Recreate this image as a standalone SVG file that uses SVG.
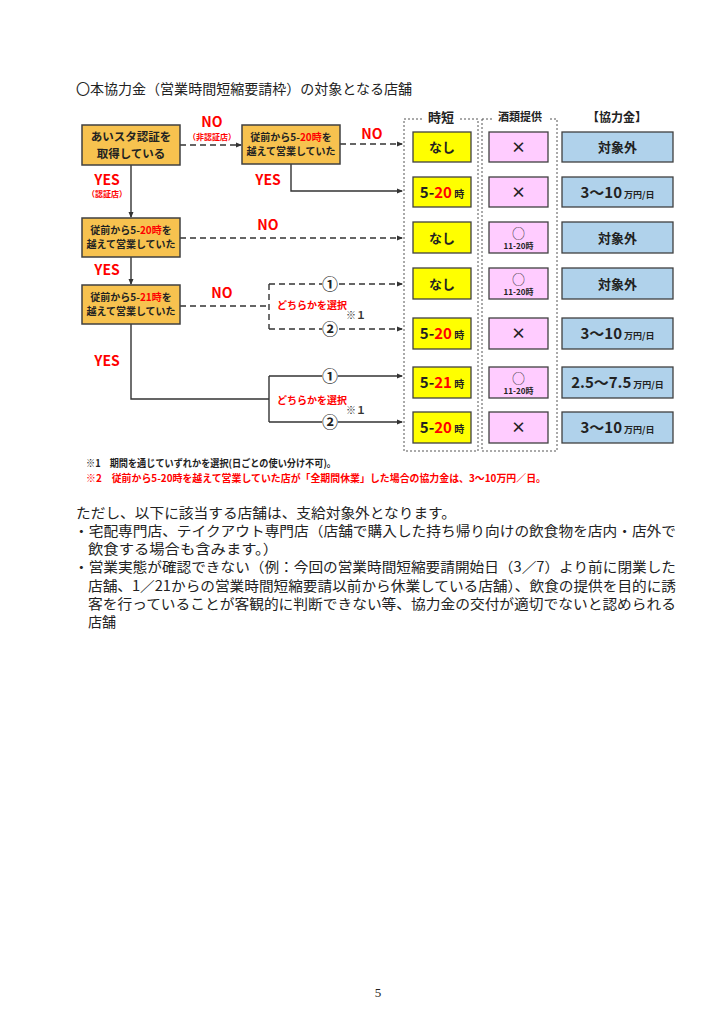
<svg xmlns="http://www.w3.org/2000/svg" width="724" height="1024" viewBox="0 0 724 1024">
<defs>
<marker id="ah" markerWidth="6" markerHeight="6" refX="5" refY="3" orient="auto" markerUnits="userSpaceOnUse">
<path d="M0,0.5 L6,3 L0,5.5 Z" fill="#333"/>
</marker>
<style>
text{font-family:"Noto Sans CJK JP","Noto Sans",sans-serif;}
.b{font-weight:bold;}
.q{fill:#F7C24F;stroke:#404040;stroke-width:1.5;}
.y{fill:#FFFF00;stroke:#404040;stroke-width:1.3;}
.p{fill:#FFCCFF;stroke:#404040;stroke-width:1.3;}
.bl{fill:#B0D2EB;stroke:#404040;stroke-width:1.3;}
.col{fill:none;stroke:#555;stroke-width:1;stroke-dasharray:2,2;}
.ln{fill:none;stroke:#333;stroke-width:1.4;}
.dl{fill:none;stroke:#333;stroke-width:1.4;stroke-dasharray:6,4;}
.red{fill:#FF0000;}
.bt{font-size:10px;font-weight:bold;fill:#222;}
.body{font-size:14px;fill:#222;}
</style>
</defs>
<rect width="724" height="1024" fill="#fff"/>

<text x="76" y="94" class="body" textLength="336" lengthAdjust="spacingAndGlyphs">〇本協力金（営業時間短縮要請枠）の対象となる店舗</text>

<g id="columns">
<rect class="col" x="404" y="119" width="74" height="332"/>
<rect class="col" x="482" y="119" width="75" height="332"/>
<rect x="422" y="110" width="38" height="14" fill="#fff"/>
<rect x="492" y="110" width="56" height="14" fill="#fff"/>
<text x="441" y="122" class="b" font-size="13" text-anchor="middle" fill="#222">時短</text>
<text x="520" y="121" class="b" font-size="11" text-anchor="middle" fill="#222">酒類提供</text>
<text x="617" y="122" class="b" font-size="12" text-anchor="middle" fill="#222">【協力金】</text>
</g>

<g id="connectors">
<line class="dl" x1="180" y1="145" x2="241" y2="145" marker-end="url(#ah)"/>
<line class="dl" x1="340" y1="144" x2="402" y2="144" marker-end="url(#ah)"/>
<polyline class="ln" points="291,164 291,191 402,191" marker-end="url(#ah)"/>
<line class="ln" x1="131" y1="165" x2="131" y2="217" marker-end="url(#ah)"/>
<line class="dl" x1="180" y1="238" x2="402" y2="238" marker-end="url(#ah)"/>
<line class="ln" x1="131" y1="257" x2="131" y2="284" marker-end="url(#ah)"/>
<line class="dl" x1="180" y1="306" x2="269" y2="306"/>
<line class="dl" x1="269" y1="284" x2="269" y2="329"/>
<line class="dl" x1="269" y1="284" x2="402" y2="284" marker-end="url(#ah)"/>
<line class="dl" x1="269" y1="329" x2="402" y2="329" marker-end="url(#ah)"/>
<polyline class="ln" points="131,324 131,399 269,399"/>
<line class="ln" x1="269" y1="376" x2="269" y2="422"/>
<line class="ln" x1="269" y1="376" x2="402" y2="376" marker-end="url(#ah)"/>
<line class="ln" x1="269" y1="422" x2="402" y2="422" marker-end="url(#ah)"/>
<g fill="#fff">
<circle cx="330" cy="284" r="8"/><circle cx="330" cy="329" r="8"/>
<circle cx="330" cy="376" r="8"/><circle cx="330" cy="422" r="8"/>
</g>
<g class="b" font-size="16" text-anchor="middle" fill="#222">
<text x="330" y="290">①</text><text x="330" y="335">②</text>
<text x="330" y="382">①</text><text x="330" y="428">②</text>
</g>
<g class="b red" text-anchor="middle">
<text x="212" y="127" font-size="14">NO</text>
<text x="212" y="140" font-size="8">（非認証店）</text>
<text x="372" y="139" font-size="14">NO</text>
<text x="107" y="185" font-size="14">YES</text>
<text x="107" y="197" font-size="8">（認証店）</text>
<text x="268" y="185" font-size="14">YES</text>
<text x="268" y="230" font-size="14">NO</text>
<text x="107" y="275" font-size="14">YES</text>
<text x="222" y="298" font-size="14">NO</text>
<text x="107" y="366" font-size="14">YES</text>
</g>
<g class="b" font-size="10">
<text x="277" y="309" class="red">どちらかを選択</text>
<text x="346" y="319" fill="#333">※１</text>
<text x="277" y="404" class="red">どちらかを選択</text>
<text x="346" y="414" fill="#333">※１</text>
</g>
</g>

<g id="n1">
<rect class="q" x="82" y="125" width="98" height="40"/>
<text x="131" y="141" class="b" font-size="11.5" text-anchor="middle" fill="#222">あいスタ認証を</text>
<text x="131" y="157.5" class="b" font-size="11.5" text-anchor="middle" fill="#222">取得している</text>
</g>
<g id="n2">
<rect class="q" x="242" y="125" width="98" height="39"/>
<text x="291" y="141" class="bt" text-anchor="middle">従前から5-<tspan class="red">20時</tspan>を</text>
<text x="291" y="155" class="bt" text-anchor="middle">越えて営業していた</text>
</g>
<g id="n3">
<rect class="q" x="82" y="218" width="98" height="39"/>
<text x="131" y="234" class="bt" text-anchor="middle">従前から5-<tspan class="red">20時</tspan>を</text>
<text x="131" y="248" class="bt" text-anchor="middle">越えて営業していた</text>
</g>
<g id="n4">
<rect class="q" x="82" y="285" width="98" height="39"/>
<text x="131" y="301" class="bt" text-anchor="middle">従前から5-<tspan class="red">21時</tspan>を</text>
<text x="131" y="315" class="bt" text-anchor="middle">越えて営業していた</text>
</g>

<g id="row1">
<rect class="y" x="413" y="132" width="58" height="30"/>
<text x="442" y="152" class="b" font-size="13" text-anchor="middle" fill="#222">なし</text>
<rect class="p" x="489" y="132" width="59" height="30"/>
<text x="518.5" y="153" class="b" font-size="15" text-anchor="middle" fill="#222">×</text>
<rect class="bl" x="562" y="132" width="111" height="30"/>
<text x="617.5" y="152" class="b" font-size="13" text-anchor="middle" fill="#222">対象外</text>
</g>
<g id="row2">
<rect class="y" x="413" y="177" width="58" height="30"/>
<text x="442" y="198" class="b" font-size="15" text-anchor="middle" fill="#222">5-<tspan class="red">20</tspan><tspan font-size="10"> 時</tspan></text>
<rect class="p" x="489" y="177" width="59" height="30"/>
<text x="518.5" y="198" class="b" font-size="15" text-anchor="middle" fill="#222">×</text>
<rect class="bl" x="562" y="177" width="111" height="30"/>
<text x="617.5" y="198" class="b" font-size="15" text-anchor="middle" fill="#222">3～10<tspan font-size="9"> 万円/日</tspan></text>
</g>
<g id="row3">
<rect class="y" x="413" y="222" width="58" height="31"/>
<text x="442" y="243" class="b" font-size="13" text-anchor="middle" fill="#222">なし</text>
<rect class="p" x="489" y="222" width="59" height="31"/>
<text x="518.5" y="238" font-size="13" text-anchor="middle" fill="#333">○</text>
<text x="518.5" y="249" class="b" font-size="8" text-anchor="middle" fill="#222">11-20時</text>
<rect class="bl" x="562" y="222" width="111" height="31"/>
<text x="617.5" y="243" class="b" font-size="13" text-anchor="middle" fill="#222">対象外</text>
</g>
<g id="row4">
<rect class="y" x="413" y="268" width="58" height="31"/>
<text x="442" y="289" class="b" font-size="13" text-anchor="middle" fill="#222">なし</text>
<rect class="p" x="489" y="268" width="59" height="31"/>
<text x="518.5" y="284" font-size="13" text-anchor="middle" fill="#333">○</text>
<text x="518.5" y="295" class="b" font-size="8" text-anchor="middle" fill="#222">11-20時</text>
<rect class="bl" x="562" y="268" width="111" height="31"/>
<text x="617.5" y="289" class="b" font-size="13" text-anchor="middle" fill="#222">対象外</text>
</g>
<g id="row5">
<rect class="y" x="413" y="318" width="58" height="31"/>
<text x="442" y="339" class="b" font-size="15" text-anchor="middle" fill="#222">5-<tspan class="red">20</tspan><tspan font-size="10"> 時</tspan></text>
<rect class="p" x="489" y="318" width="59" height="31"/>
<text x="518.5" y="339" class="b" font-size="15" text-anchor="middle" fill="#222">×</text>
<rect class="bl" x="562" y="318" width="111" height="31"/>
<text x="617.5" y="339" class="b" font-size="15" text-anchor="middle" fill="#222">3～10<tspan font-size="9"> 万円/日</tspan></text>
</g>
<g id="row6">
<rect class="y" x="413" y="367" width="58" height="31"/>
<text x="442" y="388" class="b" font-size="15" text-anchor="middle" fill="#222">5-<tspan class="red">21</tspan><tspan font-size="10"> 時</tspan></text>
<rect class="p" x="489" y="367" width="59" height="31"/>
<text x="518.5" y="383" font-size="13" text-anchor="middle" fill="#333">○</text>
<text x="518.5" y="394" class="b" font-size="8" text-anchor="middle" fill="#222">11-20時</text>
<rect class="bl" x="562" y="367" width="111" height="31"/>
<text x="617.5" y="388" class="b" font-size="15" text-anchor="middle" fill="#222">2.5～7.5<tspan font-size="9"> 万円/日</tspan></text>
</g>
<g id="row7">
<rect class="y" x="413" y="412" width="58" height="31"/>
<text x="442" y="433" class="b" font-size="15" text-anchor="middle" fill="#222">5-<tspan class="red">20</tspan><tspan font-size="10"> 時</tspan></text>
<rect class="p" x="489" y="412" width="59" height="31"/>
<text x="518.5" y="433" class="b" font-size="15" text-anchor="middle" fill="#222">×</text>
<rect class="bl" x="562" y="412" width="111" height="31"/>
<text x="617.5" y="433" class="b" font-size="15" text-anchor="middle" fill="#222">3～10<tspan font-size="9"> 万円/日</tspan></text>
</g>

<g id="notes" class="b" font-size="10">
<text x="86" y="467" fill="#222" textLength="250" lengthAdjust="spacingAndGlyphs">※1　期間を通じていずれかを選択(日ごとの使い分け不可)。</text>
<text x="86" y="482" class="red" textLength="460" lengthAdjust="spacingAndGlyphs">※2　従前から5-20時を越えて営業していた店が「全期間休業」した場合の協力金は、3～10万円／日。</text>
</g>

<g id="body" class="body">
<text x="76" y="518" textLength="380" lengthAdjust="spacingAndGlyphs">ただし、以下に該当する店舗は、支給対象外となります。</text>
<text x="74" y="536" textLength="602" lengthAdjust="spacingAndGlyphs">・宅配専門店、テイクアウト専門店（店舗で購入した持ち帰り向けの飲食物を店内・店外で</text>
<text x="88" y="554" textLength="190" lengthAdjust="spacingAndGlyphs">飲食する場合も含みます。）</text>
<text x="74" y="572" textLength="602" lengthAdjust="spacingAndGlyphs">・営業実態が確認できない（例：今回の営業時間短縮要請開始日（3／7）より前に閉業した</text>
<text x="88" y="591" textLength="588" lengthAdjust="spacingAndGlyphs">店舗、1／21からの営業時間短縮要請以前から休業している店舗）、飲食の提供を目的に誘</text>
<text x="88" y="609" textLength="588" lengthAdjust="spacingAndGlyphs">客を行っていることが客観的に判断できない等、協力金の交付が適切でないと認められる</text>
<text x="88" y="627">店舗</text>
</g>

<text x="378" y="997" font-size="13" fill="#222" text-anchor="middle" style="font-family:'Liberation Serif',serif">5</text>
</svg>
